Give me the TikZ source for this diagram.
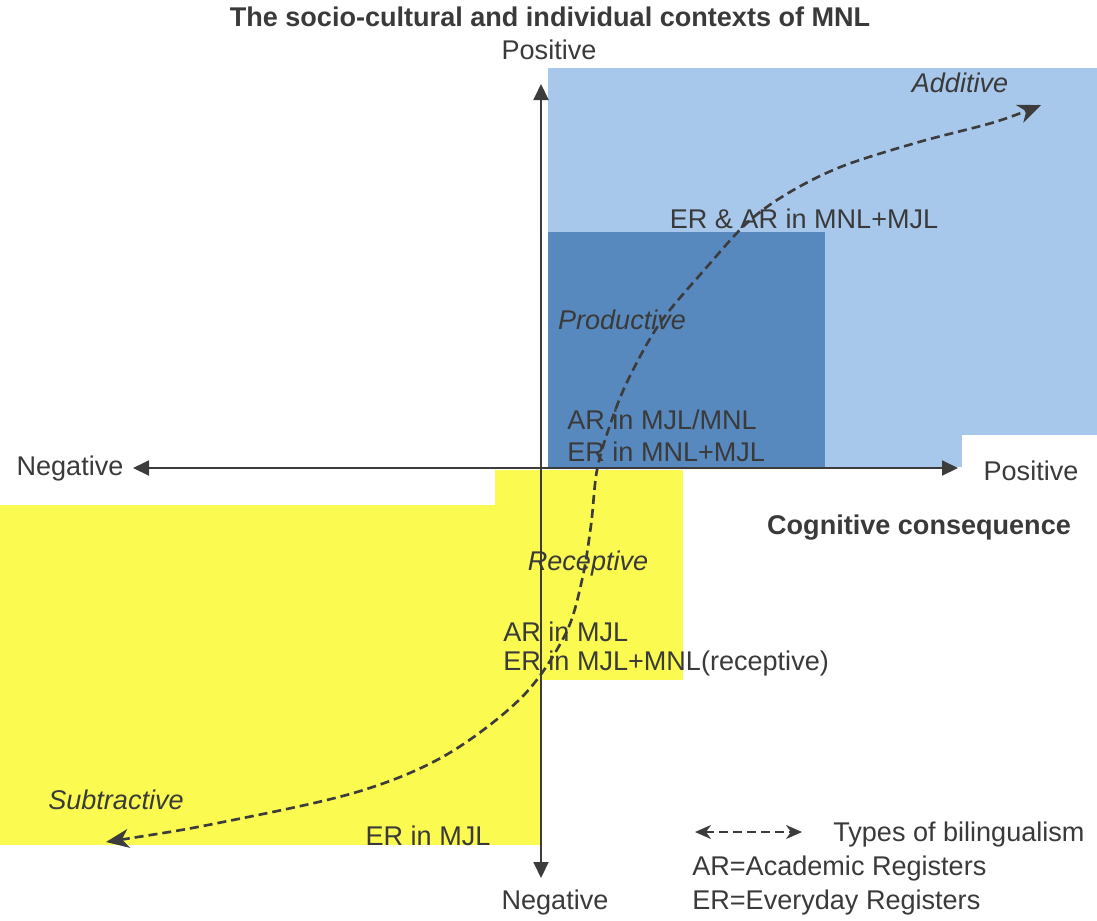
\documentclass[tikz,border=0pt]{standalone}
\usepackage{fontspec}
\setmainfont{Liberation Sans}
\usetikzlibrary{arrows.meta}

\definecolor{lightblue}{RGB}{168,200,235}
\definecolor{darkblue}{RGB}{88,137,190}
\definecolor{yellowfill}{RGB}{250,250,80}
\definecolor{textgray}{RGB}{58,58,58}
\definecolor{axisgray}{RGB}{60,60,60}

\tikzset{
  bigtip/.tip={Stealth[length=0.46cm, width=0.38cm, inset=0.14cm]},
  smalltip/.tip={Stealth[length=0.32cm, width=0.28cm, inset=0.1cm]}
}

\begin{document}
\begin{tikzpicture}[x=0.02cm, y=-0.02cm,
  font=\fontsize{15.4}{18}\selectfont, text=textgray,
  txt/.style={inner sep=0pt},
  axis/.style={draw=axisgray, line width=1.1pt, -{Triangle[length=0.32cm, width=0.3cm]}},
  bilingual/.style={draw=axisgray, line width=1.5pt, dash pattern=on 0.18cm off 0.1cm}]
  \useasboundingbox (0,0) rectangle (1097,920);

  % Shaded regions
  \fill[lightblue] (548,68) rectangle (1097,435);
  \fill[lightblue] (548,435) rectangle (962,467);
  \fill[darkblue] (548,232) rectangle (825,467);
  \fill[yellowfill] (0,505) rectangle (542,845);
  \fill[yellowfill] (495,470) rectangle (683,680);

  % Axes
  \coordinate (origin) at (541,468);
  \coordinate (xneg) at (133,468);
  \coordinate (xpos) at (958,468);
  \coordinate (ypos) at (541,84);
  \coordinate (yneg) at (541,878);
  \draw[axis] (origin) -- (xneg);
  \draw[axis] (origin) -- (xpos);
  \draw[axis] (origin) -- (ypos);
  \draw[axis] (origin) -- (yneg);

  % Axis labels
  \node[txt, font=\fontsize{15.4}{18}\selectfont\bfseries] (title) at (550,17) {The socio-cultural and individual contexts of MNL};
  \node[txt] (ytop) at (549,50) {Positive};
  \node[txt] (xleft) at (70,468) {Negative};
  \node[txt] (xright) at (1031,471) {Positive};
  \node[txt, font=\fontsize{15.4}{18}\selectfont\bfseries] (cogn) at (919,528) {Cognitive consequence};
  \node[txt] (ybottom) at (555,902) {Negative};

  % Types of bilingualism
  \coordinate (subtr) at (106,842);
  \coordinate (addit) at (1041,105);
  \draw[bilingual, bigtip-bigtip] plot[smooth, tension=0.55] coordinates {(subtr) (223,822) (357,792) (446,755) (522,697)
    (565,635) (582,580) (591,525) (597,470) (610,425) (628,380) (660,323) (706,268) (748,222) (790,192)
    (843,166) (919,142) (995,122) (addit)};

  % Region labels
  \node[txt, font=\fontsize{15.4}{18}\selectfont\itshape] (additive) at (960,83) {Additive};
  \node[txt] (erar) at (804,219) {ER \& AR in MNL+MJL};
  \node[txt, font=\fontsize{15.4}{18}\selectfont\itshape] (productive) at (622,320) {Productive};
  \node[txt, anchor=west] (armjlmnl) at (567,420) {AR in MJL/MNL};
  \node[txt, anchor=west] (ermnlmjl) at (567,452) {ER in MNL+MJL};
  \node[txt, font=\fontsize{15.4}{18}\selectfont\itshape] (receptive) at (588,563) {Receptive};
  \node[txt, anchor=west] (armjl) at (503,632) {AR in MJL};
  \node[txt, anchor=west] (ermjlmnl) at (503,663) {ER in MJL+MNL(receptive)};
  \node[txt, font=\fontsize{15.4}{18}\selectfont\itshape] (subtractive) at (116,800) {Subtractive};
  \node[txt] (ermjl) at (428,836) {ER in MJL};

  % Legend
  \coordinate (legl) at (695,832);
  \coordinate (legr) at (802,832);
  \draw[bilingual, line width=1.1pt, smalltip-smalltip] (legl) -- (legr);
  \node[txt, anchor=west] (legtypes) at (833,834) {Types of bilingualism};
  \node[txt, anchor=west] (legar) at (692,868) {AR=Academic Registers};
  \node[txt, anchor=west] (leger) at (692,902) {ER=Everyday Registers};
\end{tikzpicture}
\end{document}
